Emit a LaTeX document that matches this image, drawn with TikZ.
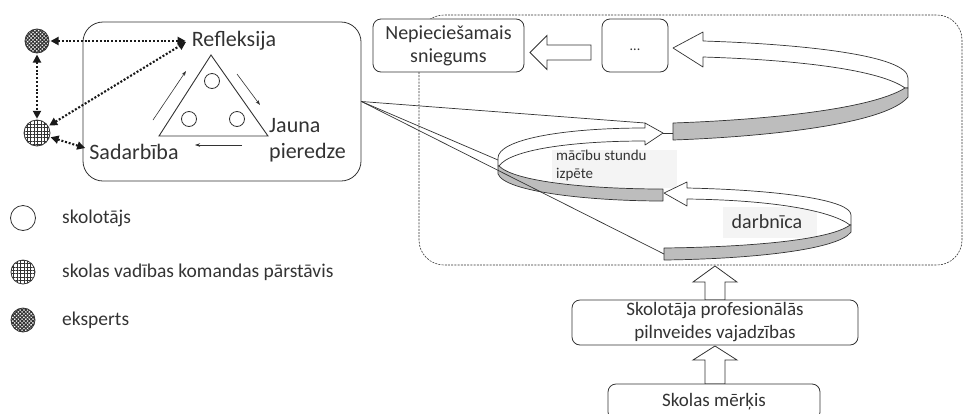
\documentclass[tikz,border=0pt]{standalone}
\usepackage{fontspec}
\setmainfont{Carlito}
\usetikzlibrary{patterns.meta,arrows.meta,calc}
\definecolor{ink}{gray}{0.2}
\definecolor{bandgray}{gray}{0.74}
\definecolor{labelbg}{gray}{0.955}
\begin{document}
\begin{tikzpicture}[x=1pt,y=-1pt,
  every node/.style={text=ink},
  fs/.style 2 args={font=\fontsize{#1}{#2}\selectfont},
  cbox/.style={draw=ink, line width=0.8pt, rounded corners=8pt, fill=white, align=center, inner sep=0pt},
  band/.style={draw=ink, line width=0.7pt, line join=round},
  hollow/.style={draw=ink, line width=0.8pt, fill=white, line join=miter},
  dotarrow/.style={draw=black!90, line width=2.1pt, dash pattern=on 2pt off 1.8pt, {Triangle[length=8pt,width=8pt]}-{Triangle[length=8pt,width=8pt]}},
  cycarrow/.style={draw=ink, line width=0.6pt, -{Stealth[length=5pt,width=3.5pt]}},
  thinline/.style={draw=ink, line width=0.7pt},
  person/.style={circle, draw=ink, line width=0.8pt, inner sep=0pt, minimum size=#1},
  gridfill/.style={pattern={Hatch[angle=0,distance=3.4pt,line width=0.5pt]}, pattern color=ink},
  expfill/.style={pattern={Hatch[angle=45,distance=2.6pt,line width=1.1pt]}, pattern color=ink},
]
\useasboundingbox (0,0) rectangle (963,413);

% dashed frame
\draw[ink, line width=0.6pt, dash pattern=on 2pt off 1.2pt, rounded corners=25pt] (419,15) rectangle (962,265);

% label backgrounds
\fill[labelbg] (552,150) rectangle (677,188);
\fill[labelbg] (723,207) rectangle (817,238);

% loop 1 (top)
\filldraw[band, fill=white] (673,48) -- (703,32) -- (703,41) .. controls (800,44) and (908,55) .. (908,78) -- (908,88) -- (905,88) .. controls (880,70) and (800,60) .. (703,57) -- (703,67) -- cycle;
\filldraw[band, fill=bandgray] (905,88) .. controls (870,110) and (760,120) .. (673,123) -- (673,140) .. controls (760,137) and (885,125) .. (908,97) -- (908,88) -- cycle;
% loop 2 (middle)
\filldraw[band, fill=white] (663,133) -- (645,123) -- (645,128) .. controls (560,128) and (498,140) .. (498,158) -- (498,166) -- (499,166) .. controls (510,150) and (570,141) .. (645,141) -- (645,145) -- cycle;
\filldraw[band, fill=bandgray] (499,166) .. controls (515,182) and (590,189) .. (663,189) -- (663,201) .. controls (590,201) and (505,192) .. (498,174) -- (498,166) -- cycle;
\draw[band] (663,133) -- (673,133);
% loop 3 (bottom)
\filldraw[band, fill=white] (664,193) -- (687,182) -- (687,188) .. controls (780,190) and (851,200) .. (851,215) -- (851,225) -- (850,225) .. controls (830,210) and (770,200) .. (687,199) -- (687,206) -- cycle;
\filldraw[band, fill=bandgray] (850,225) .. controls (830,240) and (750,247) .. (664,248) -- (664,260) .. controls (750,259) and (838,250) .. (851,232) -- (851,225) -- cycle;

\coordinate (l2head) at (645,123);
\coordinate (l2left) at (498,160);
\coordinate (l3end) at (664,254);

% labels inside loops
\node[anchor=north west, align=left, fs={15}{18}, inner sep=0pt] (msi) at (556,150) {mācību stundu\\izpēte};
\node[fs={20}{24}, inner sep=0pt] (darb) at (767,222) {darbnīca};

% top boxes
\node[cbox, fs={20}{23}, minimum width=151pt, minimum height=53pt] (nep) at (448.5,45.5) {Nepiecie\v{s}amais\\sniegums};
\node[cbox, fs={14}{16}, minimum width=66pt, minimum height=53pt, text height=10pt, text depth=0pt] (dots) at (635,45.5) {...};
\filldraw[hollow] (530,52.5) -- (547,35.5) -- (547,45) -- (591,45) -- (591,60) -- (547,60) -- (547,69.5) -- cycle;

% bottom boxes and arrows
\filldraw[hollow] (715,266) -- (737,282) -- (725,282) -- (725,300) -- (705,300) -- (705,282) -- (693,282) -- cycle;
\filldraw[hollow] (715,346) -- (737,360) -- (725,360) -- (725,384) -- (705,384) -- (705,360) -- (693,360) -- cycle;
\node[cbox, fs={19}{23}, minimum width=286pt, minimum height=45pt] (skpv) at (715,322.5) {Skolotāja profesionālās\\pilnveides vajadzības};
\node[cbox, fs={19}{23}, minimum width=212pt, minimum height=36pt] (mer) at (714,402) {Skolas mērķis};

% cycle box
\node[draw=ink, line width=0.8pt, rounded corners=20pt, minimum width=278pt, minimum height=159pt, inner sep=0pt] (cyc) at (222,101.5) {};
\node[fs={22}{26}, inner sep=4pt] (refl) at (234,41) {Refleksija};
\node[fs={22}{26}, inner sep=4pt] (sad) at (134,152) {Sadarbība};
\node[fs={22}{26}, inner sep=1pt, anchor=west, align=left] (jauna) at (268,140) {Jauna\\pieredze};

\draw[ink, line width=0.9pt, line join=miter] (211,55) -- (268,136) -- (159,136) -- cycle;
\node[person=15pt] (t1) at (212,81) {};
\node[person=15pt] (t2) at (189,119) {};
\node[person=15pt] (t3) at (237,119) {};
\draw[cycarrow] (153,120) -- (186,71);
\draw[cycarrow] (237,74) -- (260,105);
\draw[cycarrow] (242,145) -- (195,145);

% connectors from cycle box to loops
\draw[thinline] (cyc.east) -- (l2head);
\draw[thinline] (cyc.east) -- (l2left);
\draw[thinline] (cyc.east) -- (l3end);

% persons
\node[person=24pt, expfill] (expert) at (37,41) {};
\node[person=26pt, gridfill] (lead) at (37,133) {};
\draw[dotarrow, shorten >=2pt, shorten <=1pt] (expert) -- (refl.west);
\draw[dotarrow, shorten >=1pt, shorten <=1pt] (expert) -- (lead);
\draw[dotarrow, shorten >=2pt, shorten <=1pt] (lead) -- (refl.west);
\draw[dotarrow, shorten <=1pt] (lead) -- ($(sad.west)+(0,-4)$);

% legend
\node[person=25pt] (lg1) at (23,218) {};
\node[anchor=west, fs={19.5}{23}, inner sep=0pt] (lt1) at (62,218) {skolotājs};
\node[person=24pt, gridfill] (lg2) at (23,272) {};
\node[anchor=west, fs={19.5}{23}, inner sep=0pt] (lt2) at (62,272) {skolas vadības komandas pārstāvis};
\node[person=24pt, expfill] (lg3) at (23,320) {};
\node[anchor=west, fs={19.5}{23}, inner sep=0pt] (lt3) at (62,320) {eksperts};
\end{tikzpicture}
\end{document}
